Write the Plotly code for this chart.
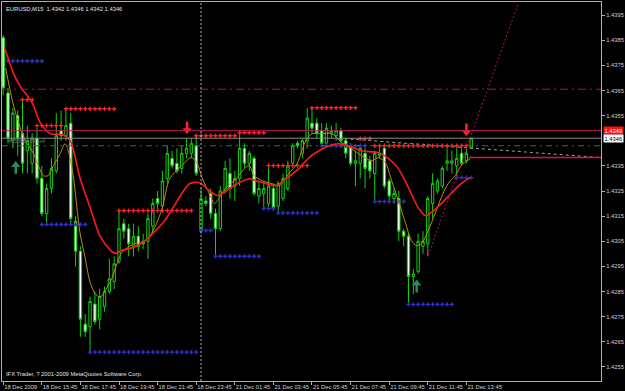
import plotly.graph_objects as go

# ---------------- data ----------------
bars = list(range(98))
opens = [1.4386,1.4364,1.4345,1.4355,1.4348,1.4341,1.4336,1.4346,1.4330,1.4316,
         1.4326,1.4333,1.4349,1.4347,1.4352,1.4313,1.4301,1.4272,1.4271,1.4280,
         1.4274,1.4279,1.4285,1.4289,1.4297,1.4312,1.4310,1.4303,1.4307,1.4305,
         1.4305,1.4311,1.4322,1.4319,1.4330,1.4338,1.4336,1.4334,1.4340,1.4340,
         1.4343,1.4309,1.4321,1.4324,1.4316,1.4310,1.4325,1.4332,1.4327,1.4330,
         1.4342,1.4336,1.4338,1.4323,1.4324,1.4320,1.4326,1.4319,1.4322,1.4326,
         1.4336,1.4344,1.4340,1.4345,1.4352,1.4352,1.4349,1.4344,1.4348,1.4347,
         1.4349,1.4345,1.4343,1.4336,1.4336,1.4340,1.4337,1.4332,1.4339,1.4342,
         1.4329,1.4322,1.4322,1.4309,1.4307,1.4291,1.4293,1.4303,1.4304,1.4320,
         1.4325,1.4327,1.4336,1.4336,1.4335,1.4340,1.4337,1.4342]
highs = [1.4387,1.4366,1.4358,1.4357,1.4361,1.4351,1.4348,1.4350,1.4335,1.4328,
         1.4338,1.4356,1.4357,1.4358,1.4356,1.4315,1.4303,1.4276,1.4283,1.4285,
         1.4286,1.4287,1.4298,1.4299,1.4317,1.4314,1.4312,1.4312,1.4311,1.4308,
         1.4316,1.4322,1.4325,1.4333,1.4343,1.4341,1.4342,1.4343,1.4346,1.4346,
         1.4347,1.4326,1.4323,1.4326,1.4318,1.4327,1.4337,1.4338,1.4333,1.4348,
         1.4344,1.4341,1.4339,1.4329,1.4329,1.4336,1.4328,1.4329,1.4332,1.4337,
         1.4344,1.4345,1.4346,1.4358,1.4358,1.4354,1.4352,1.4352,1.4351,1.4352,
         1.4350,1.4346,1.4344,1.4341,1.4343,1.4342,1.4339,1.4341,1.4342,1.4343,
         1.4330,1.4326,1.4325,1.4310,1.4308,1.4294,1.4308,1.4309,1.4323,1.4332,
         1.4330,1.4335,1.4342,1.4341,1.4342,1.4342,1.4342,1.4346]
lows = [1.4363,1.4344,1.4342,1.4339,1.4332,1.4332,1.4332,1.4328,1.4315,1.4312,
        1.4324,1.4332,1.4345,1.4345,1.4312,1.4295,1.4267,1.4267,1.4261,1.4272,
        1.4270,1.4277,1.4284,1.4286,1.4296,1.4306,1.4299,1.4299,1.4301,1.4302,
        1.4298,1.4308,1.4318,1.4318,1.4328,1.4334,1.4332,1.4332,1.4338,1.4338,
        1.4331,1.4308,1.4319,1.4314,1.4299,1.4309,1.4324,1.4322,1.4321,1.4327,
        1.4334,1.4333,1.4323,1.4320,1.4318,1.4318,1.4317,1.4317,1.4321,1.4325,
        1.4335,1.4342,1.4338,1.4342,1.4348,1.4346,1.4342,1.4343,1.4346,1.4345,
        1.4344,1.4338,1.4335,1.4327,1.4330,1.4326,1.4330,1.4321,1.4338,1.4326,
        1.4321,1.4320,1.4305,1.4303,1.4280,1.4284,1.4292,1.4300,1.4299,1.4314,
        1.4324,1.4326,1.4333,1.4332,1.4331,1.4335,1.4336,1.4342]
closes = [1.4366,1.4346,1.4356,1.4346,1.4336,1.4345,1.4346,1.4330,1.4316,1.4326,
          1.4334,1.4347,1.4347,1.4351,1.4314,1.4301,1.4274,1.4269,1.4281,1.4273,
          1.4283,1.4285,1.4290,1.4296,1.4310,1.4309,1.4304,1.4307,1.4303,1.4304,
          1.4314,1.4320,1.4320,1.4329,1.4340,1.4335,1.4333,1.4340,1.4342,1.4344,
          1.4332,1.4322,1.4320,1.4316,1.4310,1.4325,1.4334,1.4326,1.4330,1.4342,
          1.4336,1.4340,1.4324,1.4326,1.4326,1.4327,1.4318,1.4328,1.4330,1.4335,
          1.4343,1.4343,1.4345,1.4354,1.4350,1.4348,1.4344,1.4350,1.4349,1.4349,
          1.4345,1.4340,1.4336,1.4337,1.4342,1.4334,1.4333,1.4340,1.4340,1.4327,
          1.4323,1.4324,1.4309,1.4307,1.4291,1.4292,1.4305,1.4305,1.4322,1.4328,
          1.4329,1.4334,1.4337,1.4337,1.4338,1.4336,1.4340,1.4346]

# moving averages (at sample bars)
ma_red_bar = [0.3,2.1,3.6,6.0,7.7,9.8,12.4,13.9,15.9,18,20.1,22.1,23.2,24.6,26.9,28.9,31,33.5,35.1,
              38.6,40.7,42.7,44.4,46.9,48.9,51,52.4,54.5,56.6,58.6,61.3,63.4,65.8,67.5,69.5,71.6,
              74.3,77.8,79.9,81.9,84,86,87.5,88.7,90.8,92.8,94.9,96.8]
ma_red_val = [1.43819,1.43720,1.43664,1.43601,1.43521,1.43478,1.43474,1.43450,1.43303,1.43184,
              1.43069,1.43017,1.43002,1.43014,1.43025,1.43045,1.43081,1.43133,1.43180,1.43279,
              1.43283,1.43252,1.43232,1.43260,1.43283,1.43299,1.43291,1.43279,1.43271,1.43299,
              1.43339,1.43383,1.43414,1.43430,1.43438,1.43430,1.43410,1.43402,1.43379,1.43339,
              1.43263,1.43184,1.43152,1.43164,1.43200,1.43240,1.43279,1.43303]
ma_olive_bar = [0.5,1.9,3.2,4.6,6.2,7.3,8.3,9.3,10.4,11.8,12.8,13.5,14.5,15.9,17,18,19,20.1,21.3,
                22.5,23.6,24.6,25.8,27.3,28.7,30,31.4,33,34.5,36.6,39,40.1,41.3,42.7,43.8,44.8,
                46.2,48.3,50,51,52,53.7,55.7,57.2,59.2,60.9,62.7,64,66,68.1,70.2,72.2,74.3,76.3,
                77.8,79.2,80.5,81.9,83.4,84.6,85.6,86.7,88.1,89.5,90.8,92.2,93.7,94.9,96.8]
ma_olive_val = [1.43740,1.43609,1.43521,1.43450,1.43402,1.43351,1.43311,1.43311,1.43351,1.43398,
                1.43438,1.43410,1.43311,1.43085,1.42982,1.42887,1.42843,1.42827,1.42859,1.42902,
                1.42962,1.43006,1.43025,1.43041,1.43045,1.43061,1.43105,1.43184,1.43299,1.43343,
                1.43383,1.43363,1.43299,1.43240,1.43200,1.43224,1.43263,1.43299,1.43339,1.43351,
                1.43311,1.43291,1.43279,1.43271,1.43319,1.43359,1.43450,1.43478,1.43478,1.43478,
                1.43442,1.43418,1.43390,1.43371,1.43383,1.43363,1.43291,1.43212,1.43121,1.43053,
                1.43033,1.43041,1.43093,1.43160,1.43224,1.43279,1.43311,1.43351,1.43379]

# fractal level rows (price, first bar, last bar)
blue_level = [1.43767,1.43117,1.42609,1.43093,1.42990,1.43180,1.43163,1.43430,1.43208,1.42799,1.43303]
blue_start = [1, 8, 18, 41, 44, 54, 57, 66, 77, 84, 94]
blue_end   = [8, 17, 40, 43, 53, 56, 65, 75, 83, 93, 97]
red_level = [1.43613,1.43577,1.43510,1.43172,1.43470,1.43482,1.43351,1.43581,1.43458,1.43430]
red_start = [4, 13, 7, 24, 40, 49, 55, 64, 74, 77]
red_end   = [6, 23, 12, 39, 48, 54, 63, 73, 76, 96]

# horizontal levels
level_dashdot = 1.43655
level_resist = 1.4349
level_bid = 1.4346
level_order = 1.4343
stop_level = 1.43383
stop_from_bar = 96.5

trend_gray_bar = [70.7, 123.9]
trend_gray_val = [1.43458, 1.43383]
trend_pink_bar = [88.1, 106.7]
trend_pink_val = [1.42994, 1.43994]

# signal arrows: bar and price at the arrow centre
down_arrow_bar = [38.1, 96.0]
down_arrow_val = [1.43500, 1.43492]
up_arrow_bar = [2.6, 85.7]
up_arrow_val = [1.43345, 1.42873]

separator_bar = [41]

tick_bars = [0, 8, 16, 24, 32, 40, 48, 56, 64, 72, 80, 88, 96]
tick_labels = ["18 Dec 2009", "18 Dec 15:45", "18 Dec 17:45", "18 Dec 19:45", "18 Dec 21:45",
               "18 Dec 23:45", "21 Dec 01:45", "21 Dec 03:45", "21 Dec 05:45", "21 Dec 07:45",
               "21 Dec 09:45", "21 Dec 11:45", "21 Dec 13:45"]
price_ticks = [1.4255,1.4265,1.4275,1.4285,1.4295,1.4305,1.4315,1.4325,1.4335,1.4355,1.4365,1.4375,1.4385,1.4395]

FONT = "Liberation Sans"
PX = (1.44002 - 1.42494) / 380.0   # price per pixel, used only for arrow glyph parts

fig = go.Figure()

# horizontal lines (behind candles)
fig.add_hline(y=level_dashdot, line=dict(color="#B0105A", width=1, dash="8px,4px,2px,4px"))
fig.add_hline(y=level_order, line=dict(color="#2F6A6A", width=1, dash="6px,4px,2px,4px"))
fig.add_hline(y=level_resist, line=dict(color="#C0145E", width=1))
fig.add_hline(y=level_bid, line=dict(color="#8A8A8A", width=1))
fig.add_vline(x=separator_bar[0], line=dict(color="#B0B0B0", width=1, dash="2px,2px"))
fig.add_shape(type="line", x0=stop_from_bar, x1=trend_gray_bar[1], y0=stop_level, y1=stop_level,
              line=dict(color="#E0104A", width=1.5))

fig.add_trace(go.Scatter(x=trend_gray_bar, y=trend_gray_val, mode="lines",
                         line=dict(color="#A0A0A0", width=1, dash="3px,3px"), hoverinfo="skip"))

# fractal rows
for lv, s, e in zip(blue_level, blue_start, blue_end):
    xs = list(range(s, e + 1))
    fig.add_trace(go.Scatter(x=xs, y=[lv] * len(xs), mode="markers",
                             marker=dict(symbol="cross", size=3.6, color="#3030C0", line=dict(width=0)),
                             hoverinfo="skip"))
for lv, s, e in zip(red_level, red_start, red_end):
    xs = list(range(s, e + 1))
    fig.add_trace(go.Scatter(x=xs, y=[lv] * len(xs), mode="markers",
                             marker=dict(symbol="cross", size=3.6, color="#FF2020", line=dict(width=0)),
                             hoverinfo="skip"))

# candles
fig.add_trace(go.Candlestick(
    x=bars, open=opens, high=highs, low=lows, close=closes,
    increasing=dict(line=dict(color="#10D010", width=1), fillcolor="#000000"),
    decreasing=dict(line=dict(color="#10D010", width=1), fillcolor="#FFFFFF"),
    whiskerwidth=0, hoverinfo="skip"))

# moving averages
fig.add_trace(go.Scatter(x=ma_olive_bar, y=ma_olive_val, mode="lines", line_shape="spline",
                         line=dict(color="#B8900A", width=1, smoothing=0.8), hoverinfo="skip"))
fig.add_trace(go.Scatter(x=ma_red_bar, y=ma_red_val, mode="lines", line_shape="spline",
                         line=dict(color="#FF1A1A", width=1.6, smoothing=0.8), hoverinfo="skip"))

fig.add_trace(go.Scatter(x=trend_pink_bar, y=trend_pink_val, mode="lines",
                         line=dict(color="#B0145A", width=1, dash="2px,2px"), hoverinfo="skip"))

# arrows: head (triangle) + stem (vertical line marker)
def add_arrow(xs, ys, color, down):
    sgn = -1 if down else 1
    fig.add_trace(go.Scatter(x=xs, y=[v - sgn * 2.5 * PX for v in ys], mode="markers",
                             marker=dict(symbol="line-ns-open", size=6, color=color,
                                         line=dict(color=color, width=2.5)),
                             hoverinfo="skip"))
    fig.add_trace(go.Scatter(x=xs, y=[v + sgn * 2.2 * PX for v in ys], mode="markers",
                             marker=dict(symbol="triangle-down" if down else "triangle-up", size=8,
                                         color=color, line=dict(width=0)),
                             hoverinfo="skip"))

add_arrow(down_arrow_bar, down_arrow_val, "#FF2020", True)
add_arrow(up_arrow_bar, up_arrow_val, "#2E8B57", False)

# texts
fig.add_annotation(xref="paper", yref="paper", x=0.004, y=0.995, xanchor="left", yanchor="top",
                   text="EURUSD,M15  1.4342 1.4346 1.4342 1.4346", showarrow=False,
                   font=dict(family=FONT, size=5.8, color="#E0E0E0"))
fig.add_annotation(xref="paper", yref="paper", x=0.004, y=0.005, xanchor="left", yanchor="bottom",
                   text="IFX Trader, ? 2001-2009 MetaQuotes Software Corp.", showarrow=False,
                   font=dict(family=FONT, size=5.8, color="#E0E0E0"))
fig.add_annotation(xref="paper", yref="y", x=0.006, y=level_order, xanchor="left", yanchor="bottom",
                   text="#23396464 sell", showarrow=False,
                   font=dict(family=FONT, size=5.5, color="#607070"))
fig.add_annotation(xref="paper", yref="y", x=1.003, y=level_resist, xanchor="left", yanchor="middle",
                   text="1.4349", showarrow=False, bgcolor="#FF1010", borderpad=0.5,
                   font=dict(family=FONT, size=5.8, color="#FFFFFF"))
fig.add_annotation(xref="paper", yref="y", x=1.003, y=level_bid, xanchor="left", yanchor="middle",
                   text="1.4346", showarrow=False, bgcolor="#FFFFFF", borderpad=0.5,
                   font=dict(family=FONT, size=5.8, color="#000000"))

fig.update_layout(
    width=625, height=391, margin=dict(l=1, r=22, t=1, b=10),
    paper_bgcolor="#000000", plot_bgcolor="#000000", showlegend=False,
    font=dict(family=FONT, size=5.8, color="#D0D0D0"),
    xaxis=dict(range=[-0.25, 123.9], rangeslider=dict(visible=False), showgrid=False, zeroline=False,
               showline=True, linecolor="#B0B0B0", linewidth=1, mirror=True,
               tickmode="array", tickvals=tick_bars, ticktext=tick_labels, tickangle=0,
               ticks="outside", ticklen=3, tickcolor="#B0B0B0",
               ticklabelposition="outside right", ticklabelstandoff=0,
               tickfont=dict(family=FONT, size=5.8, color="#D0D0D0")),
    yaxis=dict(range=[1.42494, 1.44002], side="right", showgrid=False, zeroline=False,
               showline=True, linecolor="#B0B0B0", linewidth=1, mirror=True,
               tickmode="array", tickvals=price_ticks, ticktext=[f"{v:.4f}" for v in price_ticks],
               ticks="outside", ticklen=3, tickcolor="#B0B0B0",
               tickfont=dict(family=FONT, size=5.8, color="#D0D0D0")),
)

fig.write_html("out.html")
